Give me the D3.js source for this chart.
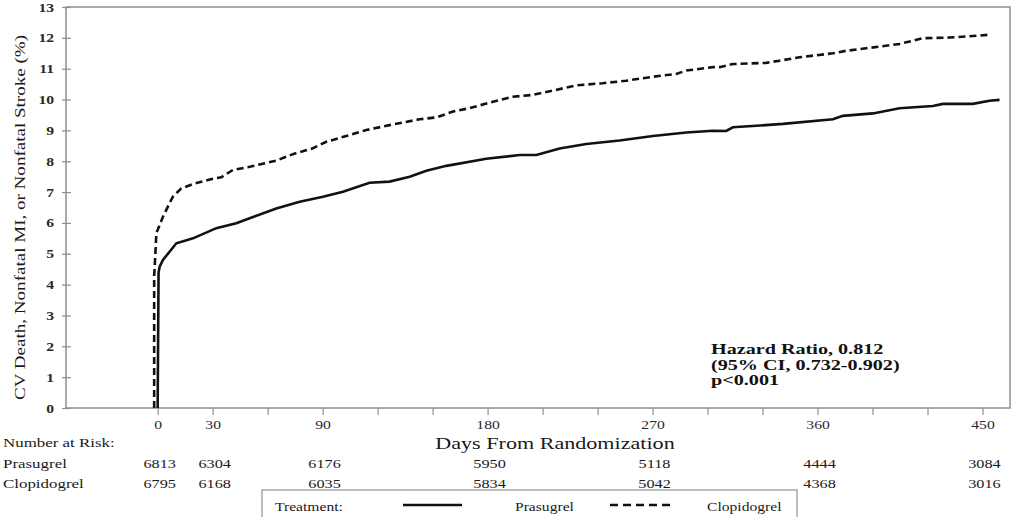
<!DOCTYPE html>
<html>
<head>
<meta charset="utf-8">
<script src="https://cdn.jsdelivr.net/npm/d3@7"></script>
<style>
  html, body { margin: 0; padding: 0; background: #fff; }
  svg { display: block; font-family: "Liberation Serif", "Times New Roman", serif; }
</style>
</head>
<body>
<svg id="chart" width="1021" height="517"></svg>
<script>
// ---- data ----
const prasugrelDays = [0, 0.5, 1.1, 2.9, 10.2, 19.3, 32.0, 42.9, 50.2, 64.7, 77.5, 90.2, 101.1, 115.6, 126.5, 137.5, 146.6, 157.5, 179.3, 197.5, 206.6, 219.3, 233.8, 252.0, 270.2, 288.4, 302.9, 310.2, 313.8, 341.1, 368.4, 373.8, 390.2, 404.7, 422.9, 428.4, 444.7, 453.8, 459.3];
const prasugrelPct  = [0, 4.4, 4.58, 4.8, 5.34, 5.50, 5.83, 5.99, 6.15, 6.47, 6.69, 6.85, 7.01, 7.30, 7.34, 7.50, 7.69, 7.85, 8.08, 8.20, 8.20, 8.41, 8.56, 8.67, 8.82, 8.93, 8.99, 8.98, 9.10, 9.21, 9.36, 9.47, 9.55, 9.72, 9.79, 9.86, 9.86, 9.96, 9.99];

const clopidogrelDays = [-1.9, -1.9, -1.6, -0.7, 2.9, 6.5, 8.3, 12.9, 19.3, 28.4, 34.7, 41.1, 50.2, 64.7, 73.8, 84.7, 92.0, 104.7, 113.8, 126.5, 142.9, 152.0, 161.1, 170.2, 182.9, 193.8, 204.7, 215.6, 228.4, 242.9, 255.6, 270.2, 282.9, 288.4, 302.9, 306.5, 313.8, 332.0, 339.3, 350.2, 368.4, 375.6, 386.5, 404.7, 417.4, 432.0, 444.7, 453.8];
const clopidogrelPct  = [0, 4.31, 4.58, 5.67, 6.20, 6.64, 6.85, 7.12, 7.26, 7.41, 7.48, 7.72, 7.82, 8.02, 8.23, 8.42, 8.63, 8.85, 9.01, 9.17, 9.36, 9.42, 9.61, 9.72, 9.93, 10.09, 10.15, 10.29, 10.46, 10.53, 10.61, 10.74, 10.83, 10.94, 11.05, 11.05, 11.15, 11.19, 11.26, 11.37, 11.50, 11.58, 11.66, 11.80, 11.99, 12.01, 12.06, 12.10];

const yTicks = [0,1,2,3,4,5,6,7,8,9,10,11,12,13];
const xTicks = [0,30,60,90,120,150,180,210,240,270,300,330,360,390,420,450];
const xTickLabels = [0,30,90,180,270,360,450];

const riskDays = [0,30,90,180,270,360,450];
const riskPrasugrel   = [6813, 6304, 6176, 5950, 5118, 4444, 3084];
const riskClopidogrel = [6795, 6168, 6035, 5834, 5042, 4368, 3016];

const hazardLines = ["Hazard Ratio, 0.812", "(95% CI, 0.732-0.902)", "p<0.001"];
const yTitle = "CV Death, Nonfatal MI, or Nonfatal Stroke (%)";
const xTitle = "Days From Randomization";

// ---- drawing ----
const svg = d3.select("#chart");
const SX = 1.3; // horizontal glyph stretch seen in reference
function stretch(sel, k) {
  sel.each(function() {
    const w = this.getComputedTextLength();
    d3.select(this).attr("textLength", w * k).attr("lengthAdjust", "spacingAndGlyphs");
  });
}

const x = d3.scaleLinear().domain([-50, 465]).range([66, 1010]);
const y = d3.scaleLinear().domain([0, 13]).range([408, 7]);

const frameColor = "#8f8f8f";
const textColor = "#1a1a1a";

// frame
svg.append("rect")
  .attr("x", x.range()[0]).attr("y", y.range()[1])
  .attr("width", x.range()[1] - x.range()[0]).attr("height", y.range()[0] - y.range()[1])
  .attr("fill", "none").attr("stroke", frameColor).attr("stroke-width", 1.5);

// y axis
const gy = svg.append("g").attr("transform", `translate(${x.range()[0]},0)`)
  .call(d3.axisLeft(y).tickValues(yTicks).tickSize(4).tickPadding(8).tickFormat(d3.format("d")));
gy.select(".domain").remove();
gy.selectAll(".tick line").attr("x1", -4).attr("x2", 5).attr("stroke", frameColor).attr("stroke-width", 1.2);
gy.selectAll(".tick text").attr("font-size", 12.5).attr("font-weight", "bold").attr("fill", "#2a2a2a")
  .attr("font-family", "Liberation Serif");
stretch(gy.selectAll(".tick text"), 1.25);

// x axis
const gx = svg.append("g").attr("transform", `translate(0,${y.range()[0]})`)
  .call(d3.axisBottom(x).tickValues(xTicks).tickSize(7).tickPadding(5)
    .tickFormat(d => xTickLabels.includes(d) ? d : ""));
gx.select(".domain").remove();
gx.selectAll(".tick line").attr("stroke", frameColor).attr("stroke-width", 1.2);
gx.selectAll(".tick text").attr("font-size", 12.5).attr("fill", "#2a2a2a").attr("font-family", "Liberation Serif");
stretch(gx.selectAll(".tick text").filter(d => xTickLabels.includes(d)), 1.25);

// curves
const line = d3.line().x(d => x(d[0])).y(d => y(d[1]));
const clopData = clopidogrelDays.map((d, i) => [d, clopidogrelPct[i]]);
const prasData = prasugrelDays.map((d, i) => [d, prasugrelPct[i]]);

svg.append("path").datum(clopData).attr("d", line)
  .attr("fill", "none").attr("stroke", "#111").attr("stroke-width", 2.6)
  .attr("stroke-dasharray", "7,4");
svg.append("path").datum(prasData).attr("d", line)
  .attr("fill", "none").attr("stroke", "#111").attr("stroke-width", 2.6);

// y title
const yt = svg.append("text")
  .attr("transform", `translate(25,${(y.range()[0] + y.range()[1]) / 2 + 10}) rotate(-90)`)
  .attr("text-anchor", "middle").attr("font-size", 15).attr("fill", textColor)
  .text(yTitle);
yt.attr("textLength", 365).attr("lengthAdjust", "spacingAndGlyphs");

// x title
const xt = svg.append("text").attr("x", 555).attr("y", 449)
  .attr("text-anchor", "middle").attr("font-size", 17).attr("fill", textColor).text(xTitle);
stretch(xt, SX);

// number at risk
const nr = svg.append("text").attr("x", 3).attr("y", 447).attr("font-size", 13).attr("fill", textColor)
  .text("Number at Risk:");
stretch(nr, SX);
const rowNames = svg.selectAll("text.rowname").data(["Prasugrel", "Clopidogrel"]).join("text")
  .attr("class", "rowname").attr("x", 3).attr("y", (d, i) => 468 + i * 20)
  .attr("font-size", 13).attr("fill", textColor).text(d => d);
stretch(rowNames, SX);

[riskPrasugrel, riskClopidogrel].forEach((row, r) => {
  const t = svg.selectAll(`text.risk${r}`).data(row).join("text")
    .attr("class", `risk${r}`)
    .attr("x", (d, i) => x(riskDays[i]) + 2)
    .attr("y", 468 + r * 20)
    .attr("text-anchor", "middle").attr("font-size", 13).attr("fill", textColor)
    .text(d => d);
  stretch(t, 1.25);
});

// hazard annotation
const hz = svg.selectAll("text.hz").data(hazardLines).join("text")
  .attr("class", "hz").attr("x", 711).attr("y", (d, i) => 354 + i * 15.5)
  .attr("font-size", 15.5).attr("font-weight", "bold").attr("fill", "#111").text(d => d);
stretch(hz, SX);

// legend
svg.append("rect").attr("x", 262).attr("y", 490).attr("width", 535).attr("height", 40)
  .attr("fill", "#fff").attr("stroke", frameColor).attr("stroke-width", 1.2);
const lt = svg.append("text").attr("x", 275).attr("y", 511).attr("font-size", 12).attr("fill", textColor)
  .text("Treatment:");
stretch(lt, SX);
svg.append("line").attr("x1", 403).attr("x2", 462).attr("y1", 505).attr("y2", 505)
  .attr("stroke", "#111").attr("stroke-width", 2.6);
const lp = svg.append("text").attr("x", 515).attr("y", 511).attr("font-size", 12).attr("fill", textColor)
  .text("Prasugrel");
stretch(lp, SX);
svg.append("line").attr("x1", 610).attr("x2", 675).attr("y1", 505).attr("y2", 505)
  .attr("stroke", "#111").attr("stroke-width", 2.6).attr("stroke-dasharray", "8,5");
const lc = svg.append("text").attr("x", 707).attr("y", 511).attr("font-size", 12).attr("fill", textColor)
  .text("Clopidogrel");
stretch(lc, SX);
</script>
</body>
</html>
